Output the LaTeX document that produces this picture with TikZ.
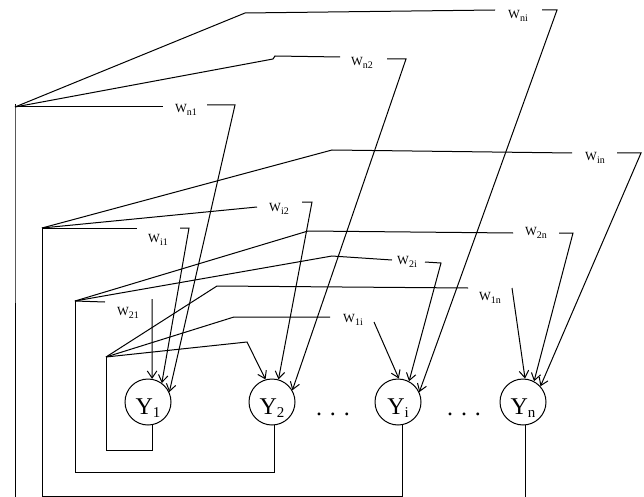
\documentclass[tikz,border=0pt]{standalone}
\usepackage{fontspec}
\setmainfont{Liberation Serif}
\usetikzlibrary{arrows.meta,calc}
\newcommand\wlab[1]{W\raisebox{-2.5pt}{\fontsize{10}{10}\selectfont #1}}
\newcommand\ylab[1]{{\fontsize{24}{24}\selectfont Y}\raisebox{-3pt}{\fontsize{15}{15}\selectfont #1}}
\begin{document}
\begin{tikzpicture}[x=1pt,y=-1pt, line width=1pt,
  neuron/.style={circle,draw,minimum size=46pt,inner sep=0pt},
  wt/.style={inner sep=0pt,font=\fontsize{12.5}{12.5}\selectfont},
  ytext/.style={inner sep=0pt,anchor=base},
  arr/.style={-{Straight Barb[length=7pt,width=9.5pt]}}]
\useasboundingbox (0,0) rectangle (644,497);
% neurons
\node[neuron] (Y1) at (148,402) {};
\node[neuron] (Y2) at (272,402) {};
\node[neuron] (Yi) at (398,402) {};
\node[neuron] (Yn) at (523,402) {};
\node[ytext] (t1) at ([yshift=-12pt]Y1.center) {\ylab{1}};
\node[ytext] (t2) at ([yshift=-12pt]Y2.center) {\ylab{2}};
\node[ytext] (ti) at ([yshift=-12pt]Yi.center) {\ylab{i}};
\node[ytext] (tn) at ([yshift=-12pt]Yn.center) {\ylab{n}};
\node[ytext,font=\fontsize{24}{24}\selectfont] (d1) at (333,415) {.\hspace{8pt}.\hspace{8pt}.};
\node[ytext,font=\fontsize{24}{24}\selectfont] (d2) at (464,415) {.\hspace{8pt}.\hspace{8pt}.};
% hubs
\coordinate (hn) at (15,107);
\coordinate (hi) at (42,228);
\coordinate (h2) at (75,301);
\coordinate (h1) at (106,357);
\coordinate (b1) at (0,450);
\coordinate (b2) at (0,472);
\coordinate (bi) at (0,496);
\coordinate (bn) at (0,503);
% feedback wires
\draw (Y1.-80) |- (b1 -| h1) -- (h1);
\draw (Y2.-85) |- (b2 -| h2) -- (h2);
\draw (Yi.-80) |- (bi -| hi) -- (hi);
\draw (Yn.-85) |- (bn -| hn) -- (hn) -- ++(0,-3);
% weight labels
\node[wt] (lni) at (518,16) {\wlab{ni}};
\node[wt] (ln2) at (362,63) {\wlab{n2}};
\node[wt] (ln1) at (186,110) {\wlab{n1}};
\node[wt] (lin) at (595,158) {\wlab{in}};
\node[wt] (li2) at (279,209) {\wlab{i2}};
\node[wt] (li1) at (158,240) {\wlab{i1}};
\node[wt] (l2n) at (536,233) {\wlab{2n}};
\node[wt] (l2i) at (407,262) {\wlab{2i}};
\node[wt] (l21) at (128,313) {\wlab{21}};
\node[wt] (l1n) at (490,298) {\wlab{1n}};
\node[wt] (l1i) at (353,320) {\wlab{1i}};
% from Y_n
\draw (hn) -- (245,13) -- (495,10);
\draw[arr] (542,10) -- (557,10) -- (Yi.25);
\draw (hn) -- (273,59) -- (275,56) -- (340,57);
\draw[arr] (387,59) -- (406,59) -- (Y2.30);
\draw (hn) -- (163,107);
\draw[arr] (207,105) -- (235,105) -- (Y1.25);
% from Y_i
\draw (hi) -- (332,150) -- (572,153);
\draw[arr] (617,153) -- (641,153) -- (Yn.42);
\draw (hi) -- (257,207);
\draw[arr] (302,202) -- (312,202) -- (Y2.74);
\draw (hi) -- (137,228);
\draw[arr] (180,228) -- (189,228) -- (Y1.54);
% from Y_2
\draw (h2) -- (308,231) -- (513,233);
\draw[arr] (559,233) -- (573,233) -- (Yn.62);
\draw (h2) -- (332,256) -- (392,260);
\draw[arr] (425,262) -- (441,263) -- (Yi.62);
\draw (h2) -- (105,302);
\draw[arr] (152,299) -- (Y1.80);
% from Y_1
\draw (h1) -- (217,286) -- (468,288);
\draw[arr] (512,288) -- (Yn.85);
\draw (h1) -- (234,317) -- (330,317);
\draw[arr] (374,322) -- (Yi.88);
\draw[arr] (h1) -- (247,342) -- (Y2.106);
\end{tikzpicture}
\end{document}
